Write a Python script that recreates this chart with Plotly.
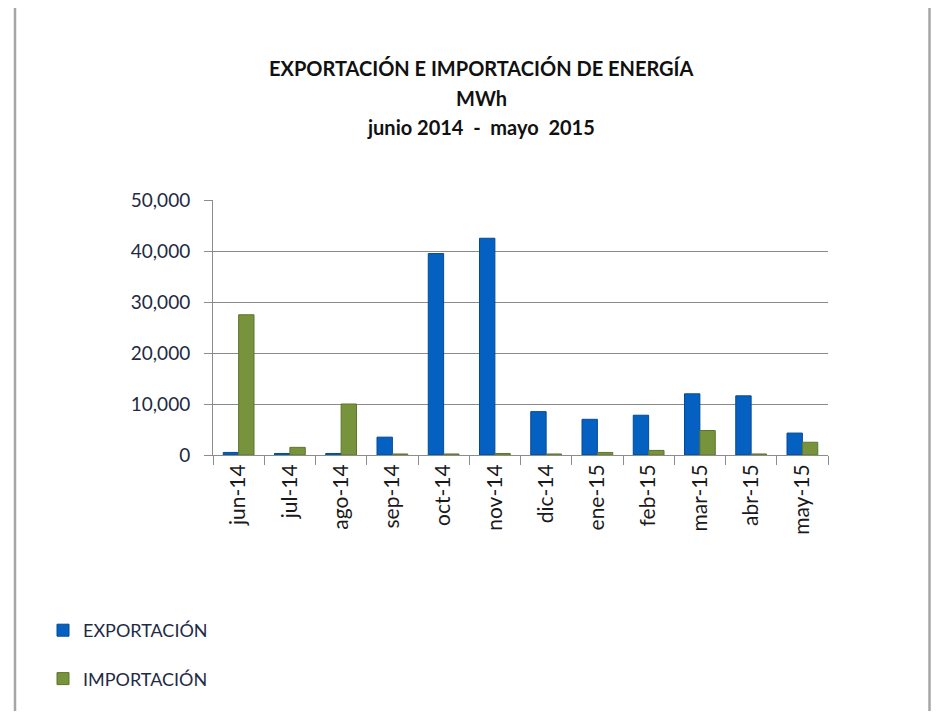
import plotly.graph_objects as go

meses = ["jun-14", "jul-14", "ago-14", "sep-14", "oct-14", "nov-14",
         "dic-14", "ene-15", "feb-15", "mar-15", "abr-15", "may-15"]
exportacion = [500, 300, 300, 3500, 39500, 42500, 8500, 7000, 7800, 12000, 11600, 4300]
importacion = [27500, 1500, 10000, 200, 200, 300, 200, 500, 900, 4800, 200, 2500]
y_ticks = [0, 10000, 20000, 30000, 40000, 50000]
y_tick_text = ["0", "10,000", "20,000", "30,000", "40,000", "50,000"]
titulo = ["EXPORTACIÓN E IMPORTACIÓN DE ENERGÍA", "MWh", "junio 2014  -  mayo  2015"]

FONT = "Lato, 'Open Sans', sans-serif"
OFF = 8                      # default page body margin
W, H = 940 - 2 * OFF, 719 - 2 * OFF
# plot area in screen pixels
PX0, PX1, PY0, PY1 = 213, 828, 200, 455
L, R = PX0 - OFF, W - (PX1 - OFF)
T, B = PY0 - OFF, H - (PY1 - OFF)
pw, ph = PX1 - PX0, PY1 - PY0

def px_x(x):
    return (x - PX0) / pw

def px_y(y):
    return (PY1 - y) / ph

fig = go.Figure()
fig.add_trace(go.Bar(
    x=meses, y=exportacion, name="EXPORTACIÓN", legendgroup="e",
    marker=dict(color="#0461C2", line=dict(color="#034a96", width=1)),
))
fig.add_trace(go.Bar(
    x=meses, y=importacion, name="IMPORTACIÓN", legendgroup="i",
    marker=dict(color="#77933C", line=dict(color="#5d742e", width=1)),
))

annotations = []
for txt, ypix in zip(titulo, [68, 98, 127]):
    annotations.append(dict(
        text="<b>%s</b>" % txt, x=px_x(481), y=px_y(ypix), xref="paper", yref="paper",
        xanchor="center", yanchor="middle", showarrow=False,
        font=dict(family=FONT, size=20, color="#111111"),
    ))

fig.update_layout(
    width=W, height=H,
    margin=dict(l=L, r=R, t=T, b=B, autoexpand=False),
    paper_bgcolor="white", plot_bgcolor="white",
    barmode="group", bargap=0.4, bargroupgap=0.0,
    annotations=annotations,
    showlegend=True,
    legend=dict(
        x=px_x(43), y=px_y(612), xanchor="left", yanchor="top",
        orientation="v", traceorder="grouped", tracegroupgap=22,
        font=dict(family=FONT, size=18, color="#1f2a44"),
        itemwidth=30, bgcolor="rgba(0,0,0,0)",
    ),
    shapes=[
        dict(type="path", xref="paper", yref="paper",
             path="M %f %f L %f %f L %f %f L %f %f" % (
                 px_x(15), px_y(730), px_x(15), px_y(6),
                 px_x(929.5), px_y(6), px_x(929.5), px_y(730)),
             line=dict(color="#a6a6a6", width=2.5), layer="below"),
    ],
    xaxis=dict(
        type="category", tickangle=-90,
        tickfont=dict(family=FONT, size=21, color="#1a1a1a"),
        showgrid=False, showline=True, linecolor="#8c8c8c", linewidth=1,
        ticks="outside", ticklen=9, tickcolor="#8c8c8c", tickson="boundaries",
    ),
    yaxis=dict(
        range=[0, 50000], tickvals=y_ticks, ticktext=y_tick_text,
        tickfont=dict(family=FONT, size=19, color="#1f2a44"),
        ticklabelstandoff=10,
        showgrid=True, gridcolor="#8a8a8a", gridwidth=1,
        showline=True, linecolor="#8c8c8c", linewidth=1,
        ticks="outside", ticklen=8, tickcolor="#8c8c8c",
        zeroline=False,
    ),
)

fig.write_html("out.html")
